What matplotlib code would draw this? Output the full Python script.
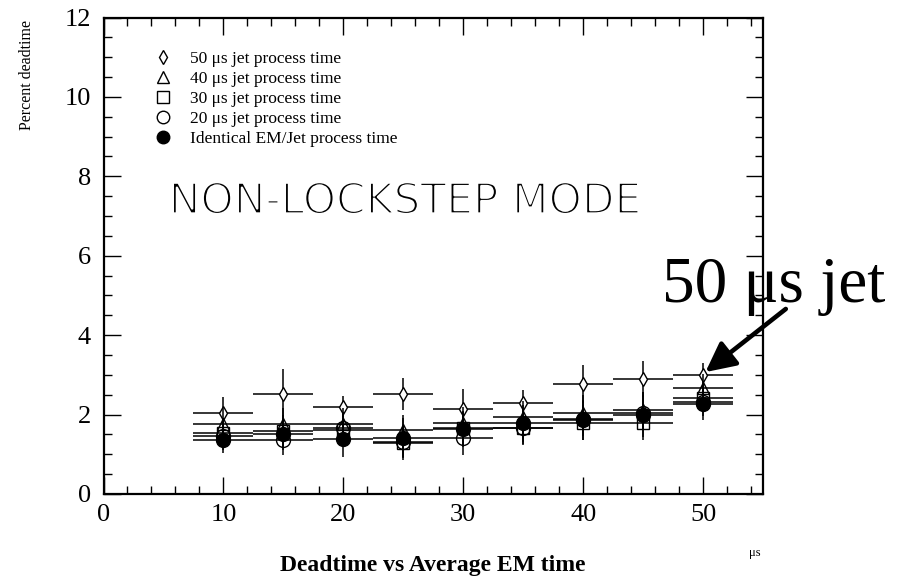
import matplotlib
matplotlib.use('Agg')
import matplotlib.pyplot as plt
from matplotlib.ticker import MultipleLocator
from matplotlib.lines import Line2D
import matplotlib.patheffects as pe

plt.rcParams['font.family'] = ['Liberation Serif', 'DejaVu Serif']

# ---- data ----
em_time = [10, 15, 20, 25, 30, 35, 40, 45, 50]
em_halfwidth = [2.5] * 9

jet50 = [2.05, 2.51, 2.20, 2.52, 2.15, 2.28, 2.76, 2.90, 3.00]
jet50_err = [0.40, 0.65, 0.27, 0.40, 0.50, 0.33, 0.48, 0.45, 0.30]

jet40 = [1.77, 1.76, 1.76, 1.60, 1.80, 1.95, 2.05, 2.12, 2.68]
jet40_err = [0.40, 0.40, 0.40, 0.40, 0.40, 0.40, 0.45, 0.45, 0.35]

jet30 = [1.53, 1.58, 1.62, 1.28, 1.65, 1.67, 1.80, 1.80, 2.43]
jet30_err = [0.38, 0.40, 0.40, 0.42, 0.42, 0.42, 0.45, 0.45, 0.35]

jet20 = [1.45, 1.36, 1.67, 1.32, 1.40, 1.65, 1.90, 2.05, 2.32]
jet20_err = [0.35, 0.38, 0.40, 0.42, 0.42, 0.42, 0.45, 0.45, 0.35]

identical = [1.37, 1.50, 1.38, 1.42, 1.63, 1.78, 1.87, 2.00, 2.27]
identical_err = [0.33, 0.38, 0.45, 0.50, 0.45, 0.46, 0.50, 0.57, 0.40]

labels = ['50 \u03bcs jet process time', '40 \u03bcs jet process time',
          '30 \u03bcs jet process time', '20 \u03bcs jet process time',
          'Identical EM/Jet process time']

W, H = 899, 577
fig = plt.figure(figsize=(W / 100, H / 100), dpi=100)
L, R, T, B = 103.5, 763, 17.5, 494
ax = fig.add_axes([L / W, 1 - B / H, (R - L) / W, (B - T) / H])

styles = [
    (jet50, jet50_err, 'd', 7.6, 'white'),
    (jet40, jet40_err, '^', 9.0, 'none'),
    (jet30, jet30_err, 's', 9.0, 'none'),
    (jet20, jet20_err, 'o', 10.0, 'none'),
    (identical, identical_err, 'o', 10.0, 'black'),
]
for i, (y, e, m, ms, mfc) in enumerate(styles):
    ax.errorbar(em_time, y, xerr=em_halfwidth, yerr=e, fmt=m, ms=ms,
                mfc=mfc, mec='black', mew=1.0, ecolor='black',
                elinewidth=1.1, capsize=0, zorder=3 + i)

ax.set_xlim(0, 55)
ax.set_ylim(0, 12)
ax.xaxis.set_major_locator(MultipleLocator(10))
ax.xaxis.set_minor_locator(MultipleLocator(2))
ax.yaxis.set_major_locator(MultipleLocator(2))
ax.yaxis.set_minor_locator(MultipleLocator(0.5))
ax.tick_params(which='both', direction='in', top=True, right=True,
               labelsize=19, width=1.0)
ax.tick_params(which='major', length=12)
ax.tick_params(which='minor', length=5.5)
ax.tick_params(axis='x', pad=7.5)
ax.tick_params(axis='y', pad=9)
for s in ax.spines.values():
    s.set_linewidth(1.6)

# legend
handles = []
for (y, e, m, ms, mfc) in styles:
    handles.append(Line2D([], [], ls='none', marker=m, ms=ms * 0.9,
                          mfc=mfc, mec='black', mew=1.0))
ax.legend(handles, labels, loc='upper left', frameon=False, fontsize=12.5,
          bbox_to_anchor=(154 / W, 1 - 51 / H), bbox_transform=fig.transFigure,
          borderpad=0, borderaxespad=0, handlelength=1.0, handletextpad=1.05,
          labelspacing=0.22)

# annotation text
t = fig.text(405 / W, 1 - 201.5 / H, 'NON-LOCKSTEP MODE', family='DejaVu Sans',
             fontsize=30.5, ha='center', va='center')
t.set_path_effects([pe.Normal(), pe.Stroke(linewidth=1.7, foreground='white')])

fig.text(662 / W, 1 - 302 / H, '50 \u03bcs jet', fontsize=47,
         ha='left', va='baseline')
ax.annotate('', xy=(50.2, 3.07), xytext=(56.9, 4.66),
            arrowprops=dict(arrowstyle='-|>,head_length=0.9,head_width=0.45',
                            lw=3.3, color='black', mutation_scale=20,
                            shrinkA=0, shrinkB=0),
            annotation_clip=False)

# axis labels
ax.set_xlabel('Deadtime vs Average EM time', fontsize=17, fontweight='bold')
ax.xaxis.set_label_coords(0.5, (B - 571) / (B - T))
ax.xaxis.label.set_va('baseline')
fig.text(27 / W, 1 - 75 / H, 'Percent deadtime', rotation=90,
         ha='center', va='center', fontsize=11.5)
fig.text(755 / W, 1 - 553 / H, '\u03bcs', fontsize=9, ha='center', va='center')

fig.savefig('out.png', dpi=100)
